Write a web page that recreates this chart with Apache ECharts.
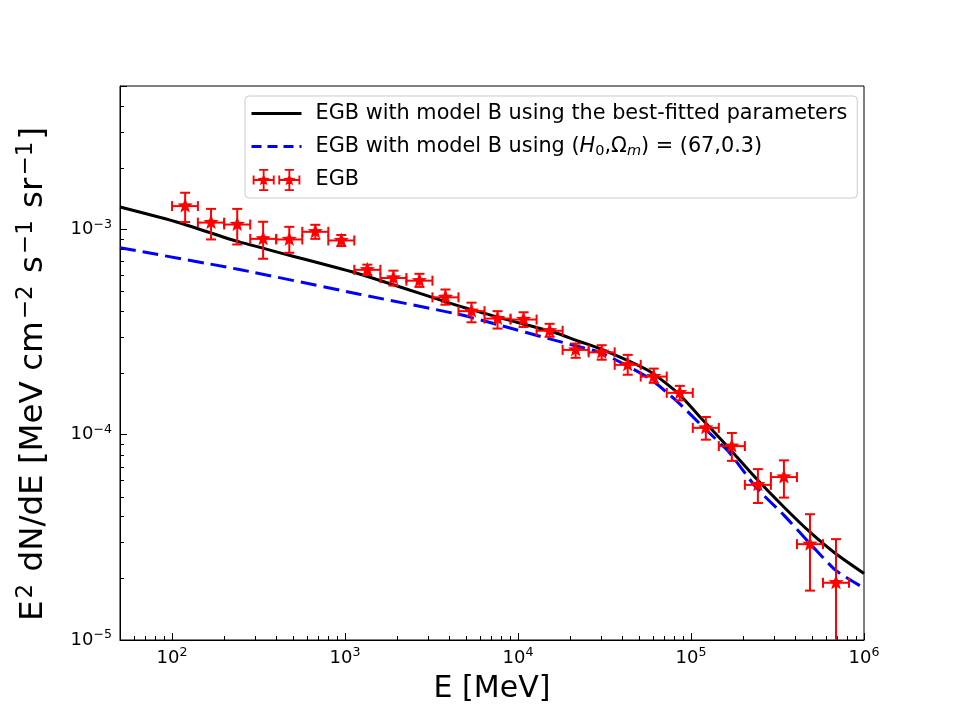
<!DOCTYPE html>
<html>
<head>
<meta charset="utf-8">
<script src="https://cdn.jsdelivr.net/npm/echarts@6/dist/echarts.min.js"></script>
<style>
  html, body { margin: 0; padding: 0; background: #fff; }
  #chart { width: 960px; height: 720px; }
</style>
</head>
<body>
<div id="chart"></div>
<script>
// EGB data points (MeV, bin centres / edges)
const egbEnergy = [119, 168, 238, 336, 476, 673, 951, 1345, 1903, 2691, 3805, 5382, 7611, 10763, 15221, 21526, 30443, 43053, 60886, 86105, 121774, 172216, 243551, 344432, 487098, 688856];
const binEdges = [100, 141, 200, 283, 400, 566, 800, 1131, 1600, 2263, 3200, 4525, 6400, 9051, 12800, 18102, 25600, 36204, 51200, 72408, 102400, 144815, 204800, 289631, 409600, 579262, 819200];
const egbFlux = [1.30e-3, 1.08e-3, 1.057e-3, 0.90e-3, 0.894e-3, 0.974e-3, 0.884e-3, 0.636e-3, 0.58e-3, 0.563e-3, 0.467e-3, 0.40e-3, 0.368e-3, 0.364e-3, 0.321e-3, 0.259e-3, 0.252e-3, 0.219e-3, 0.192e-3, 0.16e-3, 0.108e-3, 8.8e-5, 5.7e-5, 6.22e-5, 2.93e-5, 1.9e-5];
const egbUpper = [1.51e-3, 1.26e-3, 1.26e-3, 1.09e-3, 1.03e-3, 1.054e-3, 0.94e-3, 0.674e-3, 0.63e-3, 0.608e-3, 0.51e-3, 0.44e-3, 0.40e-3, 0.395e-3, 0.347e-3, 0.278e-3, 0.273e-3, 0.245e-3, 0.21e-3, 0.173e-3, 0.122e-3, 1.02e-4, 6.8e-5, 7.5e-5, 4.1e-5, 3.1e-5];
const egbLower = [1.087e-3, 0.894e-3, 0.845e-3, 0.72e-3, 0.77e-3, 0.90e-3, 0.83e-3, 0.60e-3, 0.533e-3, 0.525e-3, 0.43e-3, 0.353e-3, 0.329e-3, 0.335e-3, 0.30e-3, 0.237e-3, 0.232e-3, 0.196e-3, 0.179e-3, 0.147e-3, 0.0946e-3, 7.46e-5, 4.65e-5, 4.94e-5, 1.74e-5, 6e-6];

// model B, best fit
const bestFitE = [50, 110, 236, 460, 1210, 4590, 8000, 16300, 22000, 30800, 57600, 85800, 117000, 165000, 239000, 343000, 484000, 684000, 1000000];
const bestFitFlux = [1.286e-3, 1.079e-3, 0.877e-3, 0.755e-3, 0.607e-3, 0.423e-3, 0.37e-3, 0.315e-3, 0.287e-3, 0.260e-3, 0.204e-3, 0.157e-3, 0.118e-3, 8.65e-5, 6.10e-5, 4.46e-5, 3.37e-5, 2.64e-5, 2.11e-5];
// model B, (H0, Om) = (67, 0.3)
const fixedE = [50, 245, 1210, 4590, 8000, 15200, 22000, 30800, 57600, 85800, 117000, 165000, 239000, 343000, 484000, 684000, 1000000];
const fixedFlux = [0.815e-3, 0.638e-3, 0.484e-3, 0.385e-3, 0.34e-3, 0.293e-3, 0.270e-3, 0.249e-3, 0.188e-3, 0.1416e-3, 0.1094e-3, 8.26e-5, 5.51e-5, 4.07e-5, 2.97e-5, 2.19e-5, 1.79e-5];

const X_MIN = 50, X_MAX = 1e6;
const Y_MIN = 1e-5, Y_MAX = 5e-3;
const minorSteps = [2, 3, 4, 5, 6, 7, 8, 9];
const xDecades = [10, 100, 1000, 1e4, 1e5];
const yDecades = [1e-5, 1e-4, 1e-3];

const NAME_FIT = 'EGB with model B using the best-fitted parameters';
const NAME_FIX = 'EGB with model B using (H0,Ωm) = (67,0.3)';
const NAME_EGB = 'EGB';

const FONT = 'DejaVu Sans';

let xMinor = [], yMinor = [];
xDecades.forEach(d => minorSteps.forEach(s => { const v = d * s; if (v > X_MIN && v < X_MAX) xMinor.push(v); }));
yDecades.forEach(d => minorSteps.forEach(s => { const v = d * s; if (v > Y_MIN && v < Y_MAX) yMinor.push(v); }));

const egbRows = egbEnergy.map((e, i) => [e, egbFlux[i], binEdges[i], binEdges[i + 1], egbLower[i], egbUpper[i]]);

function powLabel(v) {
  const ex = Math.log10(v);
  const r = Math.round(ex);
  if (Math.abs(ex - r) > 1e-6) return '';
  return '{b|10}{s|' + (r < 0 ? '\u2212' + (-r) : r) + '}';
}

const tickRich = {
  b: { fontSize: 18, lineHeight: 20, fontFamily: FONT, color: '#000' },
  s: { fontSize: 12.6, lineHeight: 14, fontFamily: FONT, color: '#000', padding: [0, 0, 10, 0] }
};

function starPoints(cx, cy, ro, ri) {
  const pts = [];
  for (let k = 0; k < 10; k++) {
    const a = -Math.PI / 2 + k * Math.PI / 5;
    const rr = k % 2 ? ri : ro;
    pts.push([cx + rr * Math.cos(a), cy + rr * Math.sin(a)]);
  }
  return pts;
}

// two little error crosses for the legend
function crossPath(cx, cy) {
  const rect = (x0, y0, x1, y1) => 'M' + x0 + ' ' + y0 + 'L' + x1 + ' ' + y0 + 'L' + x1 + ' ' + y1 + 'L' + x0 + ' ' + y1 + 'Z';
  let p = '';
  p += rect(cx - 12, cy - 1, cx + 12, cy + 1);
  p += rect(cx - 12, cy - 5, cx - 10, cy + 5);
  p += rect(cx + 10, cy - 5, cx + 12, cy + 5);
  p += rect(cx - 1, cy - 12, cx + 1, cy + 12);
  p += rect(cx - 5, cy - 12, cx + 5, cy - 10);
  p += rect(cx - 5, cy + 10, cx + 5, cy + 12);
  const s = starPoints(cx, cy, 7, 3).map((q, k) => (k ? 'L' : 'M') + q[0].toFixed(2) + ' ' + q[1].toFixed(2)).join('');
  return p + s + 'Z';
}
const egbIcon = 'path://' + crossPath(12, 12) + crossPath(40, 12);

const chart = echarts.init(document.getElementById('chart'));

chart.setOption({
  animation: false,
  backgroundColor: '#fff',
  grid: {
    left: 120, right: 96, top: 86, bottom: 80,
    show: true, borderColor: '#000', borderWidth: 1, backgroundColor: 'transparent'
  },
  legend: {
    orient: 'vertical',
    left: 245, top: 96,
    itemWidth: 50, itemHeight: 22, itemGap: 10.5,
    padding: [7, 10, 7, 5],
    backgroundColor: 'rgba(255,255,255,0.8)',
    borderColor: '#cccccc', borderWidth: 1, borderRadius: 4,
    selectedMode: false,
    data: [
      { name: NAME_FIT, itemStyle: { opacity: 0 }, lineStyle: { width: 3 } },
      { name: NAME_FIX, itemStyle: { opacity: 0 }, lineStyle: { width: 3, type: [10, 6] } },
      { name: NAME_EGB, icon: egbIcon }
    ],
    formatter: function (name) {
      if (name === NAME_FIX) {
        return '{t|EGB with model B using (}{i|H}{sub|0}{t|,\u03a9}{subi|m}{t|) = (67,0.3)}';
      }
      return '{t|' + name + '}';
    },
    textStyle: {
      padding: [0, 0, 0, 9],
      rich: {
        t: { fontSize: 20.8, lineHeight: 22, fontFamily: FONT, color: '#000' },
        i: { fontSize: 20.8, lineHeight: 22, fontFamily: FONT, fontStyle: 'italic', color: '#000' },
        sub: { fontSize: 14.5, lineHeight: 13, fontFamily: FONT, color: '#000', padding: [9, 0, 0, 0] },
        subi: { fontSize: 14.5, lineHeight: 13, fontFamily: FONT, fontStyle: 'italic', color: '#000', padding: [9, 0, 0, 0] }
      }
    }
  },
  xAxis: {
    type: 'log',
    logBase: 10,
    min: X_MIN, max: X_MAX,
    name: 'E [MeV]',
    nameLocation: 'middle',
    nameGap: 30,
    nameTextStyle: { fontSize: 30, fontFamily: FONT, color: '#000' },
    axisLine: { show: true, onZero: false, lineStyle: { color: '#000', width: 1 } },
    axisTick: { show: true, inside: true, length: 7, lineStyle: { color: '#000', width: 1 } },
    axisLabel: { margin: 8, formatter: powLabel, rich: tickRich },
    splitLine: { show: false },
    minorTick: { show: false }
  },
  yAxis: {
    type: 'log',
    logBase: 10,
    min: Y_MIN, max: Y_MAX,
    name: '{n|E}{p|2}{n| dN/dE [MeV cm}{p|\u22122}{n| s}{p|\u22121}{n| sr}{p|\u22121}{n|]}',
    nameLocation: 'middle',
    nameGap: 68,
    nameRotate: 90,
    nameTextStyle: {
      fontSize: 33, fontFamily: FONT, color: '#000',
      padding: [0, 22, 0, 0],
      rich: {
        n: { fontSize: 32.5, lineHeight: 36, fontFamily: FONT, color: '#000' },
        p: { fontSize: 23, lineHeight: 24, fontFamily: FONT, color: '#000', padding: [0, 2, 16, 2] }
      }
    },
    axisLine: { show: true, onZero: false, lineStyle: { color: '#000', width: 1 } },
    axisTick: { show: true, inside: true, length: 7, lineStyle: { color: '#000', width: 1 } },
    axisLabel: { margin: 8, formatter: powLabel, rich: tickRich },
    splitLine: { show: false }
  },
  series: [
    {
      name: NAME_FIT,
      type: 'line',
      data: bestFitE.map((e, i) => [e, bestFitFlux[i]]),
      symbol: 'none',
      smooth: 0.2,
      clip: true,
      color: '#000000',
      lineStyle: { color: '#000000', width: 3 },
      z: 3
    },
    {
      name: NAME_FIX,
      type: 'line',
      data: fixedE.map((e, i) => [e, fixedFlux[i]]),
      symbol: 'none',
      smooth: 0.2,
      clip: true,
      color: '#0000ff',
      lineStyle: { color: '#0000ff', width: 3, type: [16, 7] },
      z: 2
    },
    {
      name: NAME_EGB,
      type: 'custom',
      color: '#ff0000',
      itemStyle: { color: '#ff0000' },
      data: egbRows,
      z: 5,
      silent: true,
      renderItem: function (params, api) {
        const e = api.value(0), f = api.value(1);
        const c = api.coord([e, f]);
        const l = api.coord([api.value(2), f]);
        const r = api.coord([api.value(3), f]);
        const t = api.coord([e, api.value(5)]);
        const b = api.coord([e, api.value(4)]);
        const cs = params.coordSys;
        const bottom = Math.min(b[1], cs.y + cs.height);
        const cap = 5;
        const st = { stroke: '#ff0000', lineWidth: 2 };
        return {
          type: 'group',
          children: [
            { type: 'line', shape: { x1: l[0], y1: c[1], x2: r[0], y2: c[1] }, style: st },
            { type: 'line', shape: { x1: c[0], y1: t[1], x2: c[0], y2: bottom }, style: st },
            { type: 'line', shape: { x1: l[0], y1: c[1] - cap, x2: l[0], y2: c[1] + cap }, style: st },
            { type: 'line', shape: { x1: r[0], y1: c[1] - cap, x2: r[0], y2: c[1] + cap }, style: st },
            { type: 'line', shape: { x1: c[0] - cap, y1: t[1], x2: c[0] + cap, y2: t[1] }, style: st },
            { type: 'line', shape: { x1: c[0] - cap, y1: b[1], x2: c[0] + cap, y2: b[1] }, style: st, invisible: b[1] > cs.y + cs.height },
            { type: 'polygon', shape: { points: starPoints(c[0], c[1], 8, 3.4) }, style: { fill: '#ff0000' } }
          ]
        };
      }
    },
    {
      type: 'custom',
      silent: true,
      data: xMinor.map(v => [v, Y_MIN]),
      z: 4,
      renderItem: function (params, api) {
        const p = api.coord([api.value(0), api.value(1)]);
        const x = Math.round(p[0]) + 0.5;
        return { type: 'line', shape: { x1: x, y1: p[1], x2: x, y2: p[1] - 4 }, style: { stroke: '#000', lineWidth: 1 } };
      }
    },
    {
      type: 'custom',
      silent: true,
      data: yMinor.map(v => [X_MIN, v]),
      z: 4,
      renderItem: function (params, api) {
        const p = api.coord([api.value(0), api.value(1)]);
        const y = Math.round(p[1]) + 0.5;
        return { type: 'line', shape: { x1: p[0], y1: y, x2: p[0] + 4, y2: y }, style: { stroke: '#000', lineWidth: 1 } };
      }
    }
  ]
});
</script>
</body>
</html>
